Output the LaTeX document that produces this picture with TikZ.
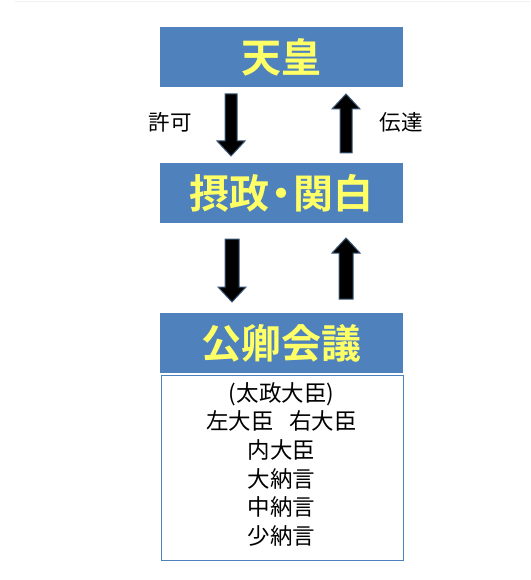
\documentclass[tikz,border=0pt]{standalone}
\usepackage{fontspec}
\newfontfamily\cjk{Noto Sans CJK JP}
\newfontfamily\cjkb{Noto Sans CJK JP Bold}
\definecolor{hdrblue}{HTML}{4F81BD}
\definecolor{hdryellow}{HTML}{FFFF66}
\definecolor{arrowedge}{HTML}{3B5878}
\tikzset{
  hdr/.style={fill=hdrblue, draw=none, minimum width=243pt, minimum height=60pt,
    inner sep=0pt, text=hdryellow, font=\cjkb\fontsize{40}{42}\selectfont, anchor=north west},
  bodybox/.style={draw=hdrblue, line width=1pt, fill=white, minimum width=242pt, minimum height=185pt,
    inner sep=0pt, anchor=north west},
  bodytext/.style={align=center, font=\cjk\fontsize{22.5}{28.7}\selectfont, anchor=north, inner sep=0pt},
  lbl/.style={font=\cjk\fontsize{21.5}{22}\selectfont, inner sep=0pt},
  blk/.style={fill=black, draw=arrowedge, line width=1pt, line join=miter}
}
\usetikzlibrary{calc}
\newcommand\arrdown[5]{% name, x, ytop, ybot, halfshaft
  \coordinate (#1) at (#2,-#3);
  \filldraw[blk] ($(#1)+(-#5,0)$) -- ($(#1)+(#5,0)$) -- ($(#1)+(#5,-#4+#3+15)$)
    -- ($(#1)+(14,-#4+#3+15)$) -- ($(#1)+(0,-#4+#3)$) -- ($(#1)+(-14,-#4+#3+15)$)
    -- ($(#1)+(-#5,-#4+#3+15)$) -- cycle;}
\newcommand\arrup[5]{% name, x, ytop, ybot, halfshaft
  \coordinate (#1) at (#2,-#4);
  \filldraw[blk] ($(#1)+(-#5,0)$) -- ($(#1)+(#5,0)$) -- ($(#1)+(#5,#4-#3-15)$)
    -- ($(#1)+(14,#4-#3-15)$) -- ($(#1)+(0,#4-#3)$) -- ($(#1)+(-14,#4-#3-15)$)
    -- ($(#1)+(-#5,#4-#3-15)$) -- cycle;}
\begin{document}
\begin{tikzpicture}[x=1pt,y=1pt]
\useasboundingbox (0,0) rectangle (530,-580);
\fill[white] (0,0) rectangle (530,-580);
\draw[black!6, line width=0.8pt] (15,-1.5) -- (530,-1.5);

\node[hdr] (tenno) at (160,-27) {天皇};
\node[hdr] (sekkan) at (160,-163) {摂政\kern-8pt・\kern-8pt関白};
\node[bodybox] (kugyobox) at (160.5,-375) {};
\node[hdr] (kugyo) at (160,-313) {公卿会議};

\node[bodytext] (members) at (281.5,-382) {(太政大臣)\\左大臣\hspace{0.7em}右大臣\\内大臣\\大納言\\中納言\\少納言};

\arrdown{a1}{231}{94}{156}{6}
\arrup{a2}{346}{94}{153}{6}
\arrdown{a3}{232}{239}{302}{7}
\arrup{a4}{346}{238}{299}{7}

\node[lbl] (kyoka) at (170,-122) {許可};
\node[lbl] (dentatsu) at (401,-122) {伝達};
\end{tikzpicture}
\end{document}
